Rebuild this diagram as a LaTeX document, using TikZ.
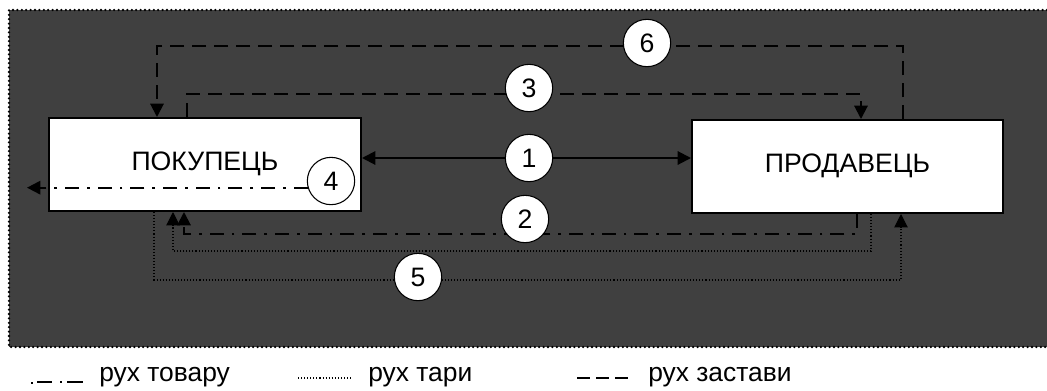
\documentclass[tikz,border=0pt]{standalone}
\usepackage{fontspec}
\setmainfont{Liberation Sans}
\usetikzlibrary{arrows.meta,calc}

\definecolor{panel}{RGB}{64,64,64}

\pgfdeclarelayer{panellayer}
\pgfdeclarelayer{boxlayer}
\pgfdeclarelayer{flowlayer}
\pgfsetlayers{panellayer,boxlayer,flowlayer,main}

\tikzset{
  party/.style={draw=black, fill=white, line width=1.5pt, minimum height=69.75pt,
    inner sep=0pt, text height=14pt, text depth=5.6pt, font=\fontsize{20}{23}\selectfont},
  numdisc/.style={circle, draw=black, fill=white, line width=0.8pt, minimum size=35.5pt,
    inner sep=0pt, font=\fontsize{20}{23}\selectfont},
  tip/.style={-{Triangle[length=10pt,width=10pt]}},
  twotips/.style={{Triangle[length=10pt,width=10pt]}-{Triangle[length=10pt,width=10pt]}},
  goods/.style={line width=1.5pt, dash pattern=on 10.5pt off 6pt on 2pt off 6pt},
  tare/.style={line width=0.8pt, dash pattern=on 0.8pt off 1.5pt},
  deposit/.style={line width=1.5pt, dash pattern=on 10.5pt off 6pt},
  frameline/.style={line width=1.9pt, line cap=round, dash pattern=on 0pt off 3.3pt},
  legendtext/.style={anchor=base west, inner sep=0pt, font=\fontsize{19.8}{23}\selectfont},
}

\begin{document}
\begin{tikzpicture}[x=0.75pt, y=-0.75pt]
  \useasboundingbox (0,0) rectangle (1047,390);

  % dark panel with dotted frame
  \begin{pgfonlayer}{panellayer}
    \fill[panel] (9,10) rectangle (1047,347);
    \draw[frameline] (1047,10) -- (9,10) -- (9,347) -- (1047,347);
  \end{pgfonlayer}

  % the two parties
  \begin{pgfonlayer}{boxlayer}
    \node[party, minimum width=234pt] (lb) at (205,164.5) {ПОКУПЕЦЬ};
    \node[party, minimum width=233.25pt] (rb) at (847.5,166.5) {ПРОДАВЕЦЬ};
  \end{pgfonlayer}

  % flow discs
  \node[numdisc] (c1) at (529,158) {1};
  \node[numdisc] (c2) at (525,219) {2};
  \node[numdisc] (c3) at (529,88) {3};
  \node[numdisc] (c4) at (331,181) {4};
  \node[numdisc] (c5) at (418,277) {5};
  \node[numdisc] (c6) at (647,43) {6};

  % free end of flow 4
  \coordinate (out4) at (27,188);

  \begin{pgfonlayer}{flowlayer}
    % 1: two-way contract link
    \draw[twotips, line width=1.5pt] ($(lb.north east)+(0,41)$) -- ($(rb.north west)+(0,39)$);

    % 6: deposit back to buyer
    \draw[deposit, tip] ($(rb.north west)+(212,0)$) |- ($(lb.north west)+(109,-71)$)
          -- ($(lb.north west)+(109,0)$);
    % 3: deposit to seller
    \draw[deposit, tip] ($(lb.north west)+(139,0)$) |- ($(rb.north west)+(170,-25)$)
          -- ($(rb.north west)+(170,0)$);

    % 2: goods from seller to buyer
    \draw[goods, tip] ($(rb.south west)+(166,0)$) |- ($(lb.south west)+(136,22)$)
          -- ($(lb.south west)+(136,0)$);
    % 4: goods leaving the buyer
    \draw[goods, tip] (c4.196) -- (c4.196 -| out4);

    % 5: tare in both directions
    \draw[tare, tip] ($(rb.south west)+(180,0)$) |- ($(lb.south west)+(125,39)$)
          -- ($(lb.south west)+(125,0)$);
    \draw[tare, tip] ($(lb.south west)+(106,0)$) |- ($(rb.south west)+(210,66)$)
          -- ($(rb.south west)+(210,0)$);
  \end{pgfonlayer}

  % legend
  \draw[line width=1.5pt] (31,383) -- (33,383) (37,382) -- (52,382)
                          (60,382) -- (62,382) (67,382) -- (83,382);
  \node[legendtext] (lg1) at (99,381) {рух товару};
  \draw[tare] (298,378) -- (352,378);
  \node[legendtext] (lg2) at (368,381) {рух тари};
  \draw[line width=1.5pt] (577,378) -- (590,378) (596,378) -- (609,378) (615,378) -- (628,378);
  \node[legendtext] (lg3) at (648,381) {рух застави};
\end{tikzpicture}
\end{document}
